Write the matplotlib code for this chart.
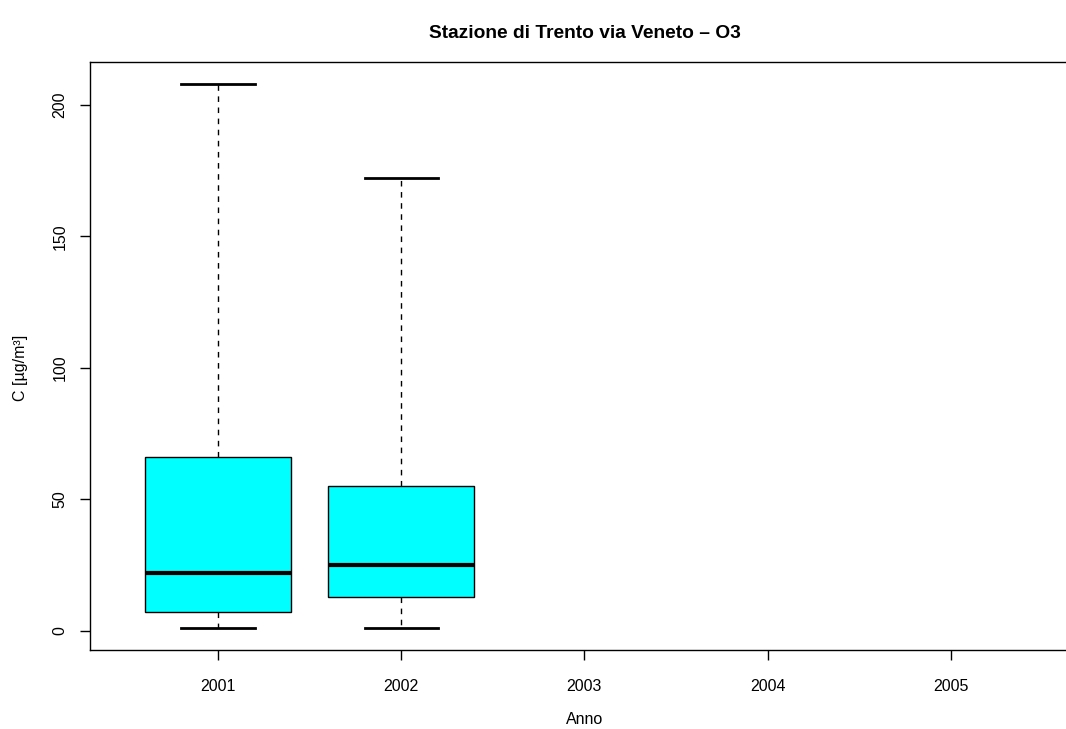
import matplotlib
matplotlib.use("Agg")
import matplotlib.pyplot as plt

plt.rcParams['font.family'] = ['Liberation Sans', 'DejaVu Sans']

years = ["2001", "2002", "2003", "2004", "2005"]
whislo = [1, 1]
q1 = [7, 13]
med = [22, 25]
q3 = [66, 55]
whishi = [208, 172]

fig = plt.figure(figsize=(10.66, 7.29), dpi=100)
ax = fig.add_axes([89.7/1066, 1 - 650/729, (1079 - 89.7)/1066, (650 - 62)/729])

stats = []
for i in range(len(med)):
    stats.append(dict(whislo=whislo[i], q1=q1[i], med=med[i], q3=q3[i],
                      whishi=whishi[i], fliers=[], label=years[i]))

pos = list(range(1, len(years) + 1))
ax.bxp(stats, positions=pos[:len(stats)], widths=0.8, capwidths=0.4,
       patch_artist=True, showfliers=False, manage_ticks=False,
       boxprops=dict(facecolor='#00FFFF', edgecolor='black', linewidth=1.0),
       medianprops=dict(color='black', linewidth=3.0, solid_capstyle='butt'),
       whiskerprops=dict(color='black', linewidth=1.0, linestyle=(0, (4, 4))),
       capprops=dict(color='black', linewidth=2.0))

ax.set_xlim(0.3, 5.7)
ymin, ymax = 1, 208
pad = 0.04 * (ymax - ymin)
ax.set_ylim(ymin - pad, ymax + pad)

ax.set_xticks(pos)
ax.set_xticklabels(years)
ax.set_yticks([0, 50, 100, 150, 200])
ax.set_yticklabels(["0", "50", "100", "150", "200"], rotation=90, va='center')
ax.tick_params(axis='x', length=7, width=1, labelsize=11.5, direction='out', pad=14)
ax.tick_params(axis='y', length=7, width=1, labelsize=11.5, direction='out', pad=9)
for s in ax.spines.values():
    s.set_linewidth(1.0)

fig.text(585/1066, 1 - 719/729, "Anno", ha='center', va='center', fontsize=11.5)
fig.text(21/1066, 1 - 368/729, "C [µg/m³]", ha='center', va='center',
         rotation=90, fontsize=11.5)
fig.text(585/1066, 1 - 33/729,
         "Stazione di Trento via Veneto – O3", ha='center', va='center',
         fontsize=13.8, fontweight='bold')

fig.savefig("out.png", dpi=100)
